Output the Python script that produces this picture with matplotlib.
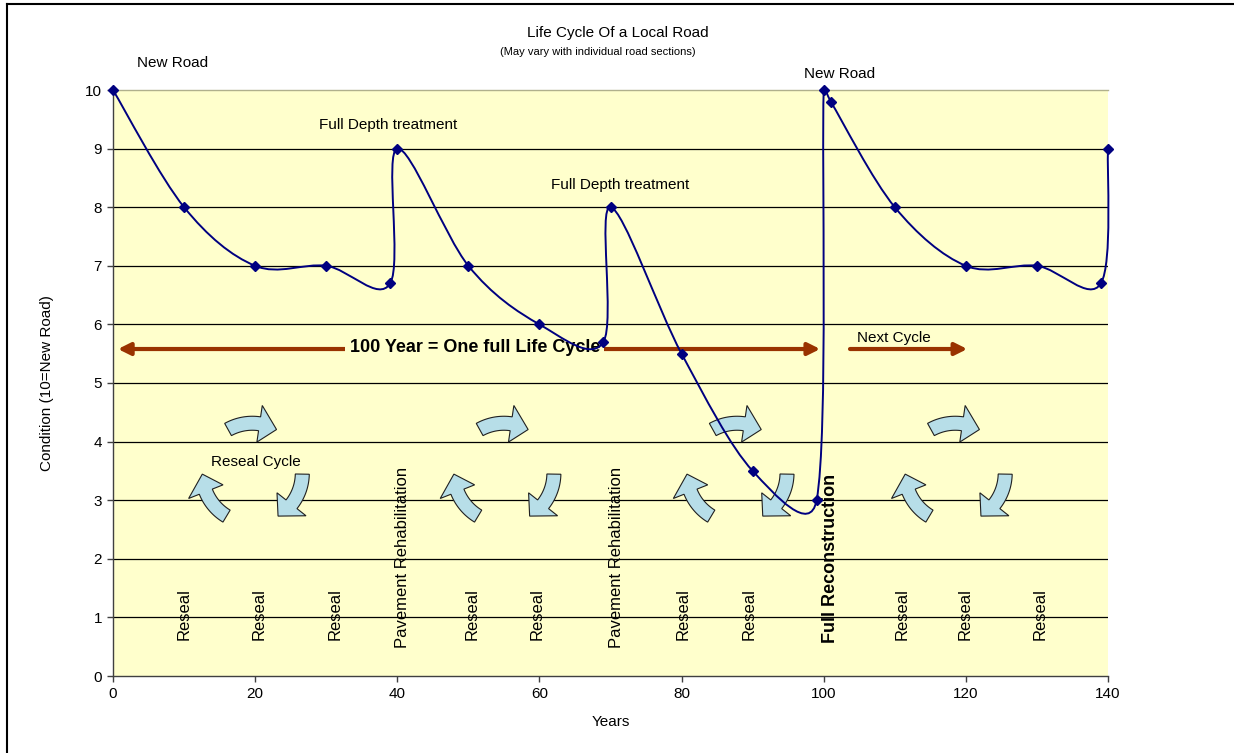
import numpy as np
import matplotlib
matplotlib.use("Agg")
import matplotlib.pyplot as plt
from matplotlib.path import Path
from matplotlib.patches import PathPatch, Polygon
from matplotlib.lines import Line2D
import matplotlib.transforms as mtransforms

plt.rcParams['font.family'] = ['Liberation Sans', 'DejaVu Sans']

# ---- data ----
years = [0, 10, 20, 30, 39, 40, 50, 60, 69, 70, 80, 90, 99, 100, 101, 110, 120, 130, 139, 140]
condition = [10, 8, 7, 7, 6.7, 9, 7, 6, 5.7, 8, 5.5, 3.5, 3, 10, 9.8, 8, 7, 7, 6.7, 9]

reseal_years = [10.0, 20.6, 31.3, 50.5, 59.7, 80.2, 89.5, 111.0, 119.9, 130.4]
rehab_years = [40.7, 70.9]
reconstruction_year = 100.9
cycle_centers = [19.6, 55.0, 87.8, 118.5]
cycle_level = 3.46

x_ticks = [0, 20, 40, 60, 80, 100, 120, 140]
y_ticks = list(range(0, 11))

LINE = '#000080'
BROWN = '#993300'
PANEL = '#FFFFCC'
ARROW_FILL = '#B7DEE8'

W, H = 1234, 753
fig = plt.figure(figsize=(W / 100, H / 100), dpi=100)
ax = fig.add_axes([113 / W, (H - 676) / H, 995 / W, 586 / H])
ax.set_xlim(0, 140)
ax.set_ylim(0, 10)
ax.set_facecolor(PANEL)

# outer frame (top and left edges)
fig.add_artist(Line2D([7 / W, 7 / W], [0, 1 - 4 / H], color='black', lw=1.5, transform=fig.transFigure))
fig.add_artist(Line2D([7 / W, 1], [1 - 4 / H, 1 - 4 / H], color='black', lw=1.5, transform=fig.transFigure))

for s in ['left', 'bottom']:
    ax.spines[s].set_color('#404040')
    ax.spines[s].set_linewidth(1.0)
ax.spines['top'].set_color('#B0B08C')
ax.spines['top'].set_linewidth(1.0)
ax.spines['right'].set_visible(False)

for yv in range(1, 10):
    ax.axhline(yv, color='black', lw=0.9, zorder=1)

ax.set_xticks(x_ticks)
ax.set_yticks(y_ticks)
ax.tick_params(direction='out', length=4, width=1, color='#404040', labelsize=11, pad=4)
ax.set_xlabel('Years', fontsize=11, labelpad=10)
ax.set_ylabel('Condition (10=New Road)', fontsize=11, labelpad=22)

fig.text(0.5008, 1 - 33 / H, 'Life Cycle Of a Local Road', ha='center', va='center', fontsize=11)
fig.text(0.4846, 1 - 52 / H, '(May vary with individual road sections)', ha='center', va='center', fontsize=8)


# ---- smoothed line (Bezier through the points, control arms limited by segment length) ----
def smooth_path(xs, ys):
    fig.canvas.draw()
    pts_d = np.array(ax.transData.transform(np.column_stack([xs, ys])))
    n = len(pts_d)
    f = 1.0 / 6.0
    verts = [pts_d[0]]
    codes = [Path.MOVETO]
    for i in range(n - 1):
        p0 = pts_d[i - 1] if i > 0 else pts_d[i]
        p1 = pts_d[i]
        p2 = pts_d[i + 1]
        p3 = pts_d[i + 2] if i + 2 < n else pts_d[i + 1]
        d12 = np.linalg.norm(p2 - p1)
        d02 = np.linalg.norm(p2 - p0)
        d13 = np.linalg.norm(p3 - p1)
        f1 = f if d02 * f <= d12 / 2 or d02 == 0 else (d12 / 2) / d02
        f2 = f if d13 * f <= d12 / 2 or d13 == 0 else (d12 / 2) / d13
        c1 = p1 + f1 * (p2 - p0)
        c2 = p2 - f2 * (p3 - p1)
        verts += [c1, c2, p2]
        codes += [Path.CURVE4] * 3
    inv = ax.transData.inverted()
    return Path(inv.transform(np.array(verts)), codes)


ax.add_patch(PathPatch(smooth_path(years, condition), facecolor='none', edgecolor=LINE, lw=1.4,
                       zorder=6, clip_on=False))
ax.plot(years, condition, ls='none', marker='D', ms=5.5, color=LINE, zorder=7, clip_on=False)


# ---- curved cycle arrows ----
def cycle_arrow(cx, cy, a_tail, sweep=58, R=50, w=14, head_w=37, head_len=18):
    a_tail = np.radians(a_tail)
    a_tip = a_tail - np.radians(sweep)
    a_base = a_tip + head_len / R
    t = np.linspace(a_tail, a_base, 20)
    outer = np.column_stack([(R + w / 2) * np.cos(t), (R + w / 2) * np.sin(t)])
    inner = np.column_stack([(R - w / 2) * np.cos(t[::-1]), (R - w / 2) * np.sin(t[::-1])])
    rw_o, rw_i = R + head_w / 2, R - head_w / 2
    head = np.array([
        [rw_o * np.cos(a_base), rw_o * np.sin(a_base)],
        [R * np.cos(a_tip), R * np.sin(a_tip)],
        [rw_i * np.cos(a_base), rw_i * np.sin(a_base)],
    ])
    verts = np.vstack([outer, head, inner])
    trans = mtransforms.ScaledTranslation(cx, cy, ax.transData)
    ax.add_patch(Polygon(verts, closed=True, facecolor=ARROW_FILL, edgecolor='#202020',
                         lw=0.8, transform=trans, zorder=4))


for c in cycle_centers:
    for k in range(3):
        cycle_arrow(c, cycle_level, 119 - 120 * k)

# ---- life cycle span arrows ----
ax.annotate('', xy=(99.5, 5.58), xytext=(0.7, 5.58),
            arrowprops=dict(arrowstyle='<|-|>', color=BROWN, lw=3, mutation_scale=18,
                            shrinkA=0, shrinkB=0), zorder=3)
ax.annotate('', xy=(120.2, 5.58), xytext=(103.7, 5.58),
            arrowprops=dict(arrowstyle='-|>', color=BROWN, lw=3, mutation_scale=18,
                            shrinkA=0, shrinkB=0), zorder=3)
ax.text(50.9, 5.6, '100 Year = One full Life Cycle', ha='center', va='center', fontsize=13,
        fontweight='bold', zorder=4,
        bbox=dict(facecolor=PANEL, edgecolor='none', pad=3))
ax.text(109.9, 5.77, 'Next Cycle', ha='center', va='center', fontsize=11, zorder=4)

# ---- annotations ----
ax.text(8.44, 10.46, 'New Road', ha='center', va='center', fontsize=11, clip_on=False)
ax.text(102.3, 10.27, 'New Road', ha='center', va='center', fontsize=11, clip_on=False)
ax.text(38.7, 9.40, 'Full Depth treatment', ha='center', va='center', fontsize=11)
ax.text(71.3, 8.38, 'Full Depth treatment', ha='center', va='center', fontsize=11)
ax.text(20.1, 3.65, 'Reseal Cycle', ha='center', va='center', fontsize=11, zorder=5)

for x in reseal_years:
    ax.text(x, 1.06, 'Reseal', rotation=90, ha='center', va='center', fontsize=12, zorder=5)
for x in rehab_years:
    ax.text(x, 2.03, 'Pavement Rehabilitation', rotation=90, ha='center', va='center', fontsize=12, zorder=5)
ax.text(reconstruction_year, 2.0, 'Full Reconstruction', rotation=90, ha='center', va='center',
        fontsize=13, fontweight='bold', zorder=5)

fig.savefig('out.png', dpi=100)
